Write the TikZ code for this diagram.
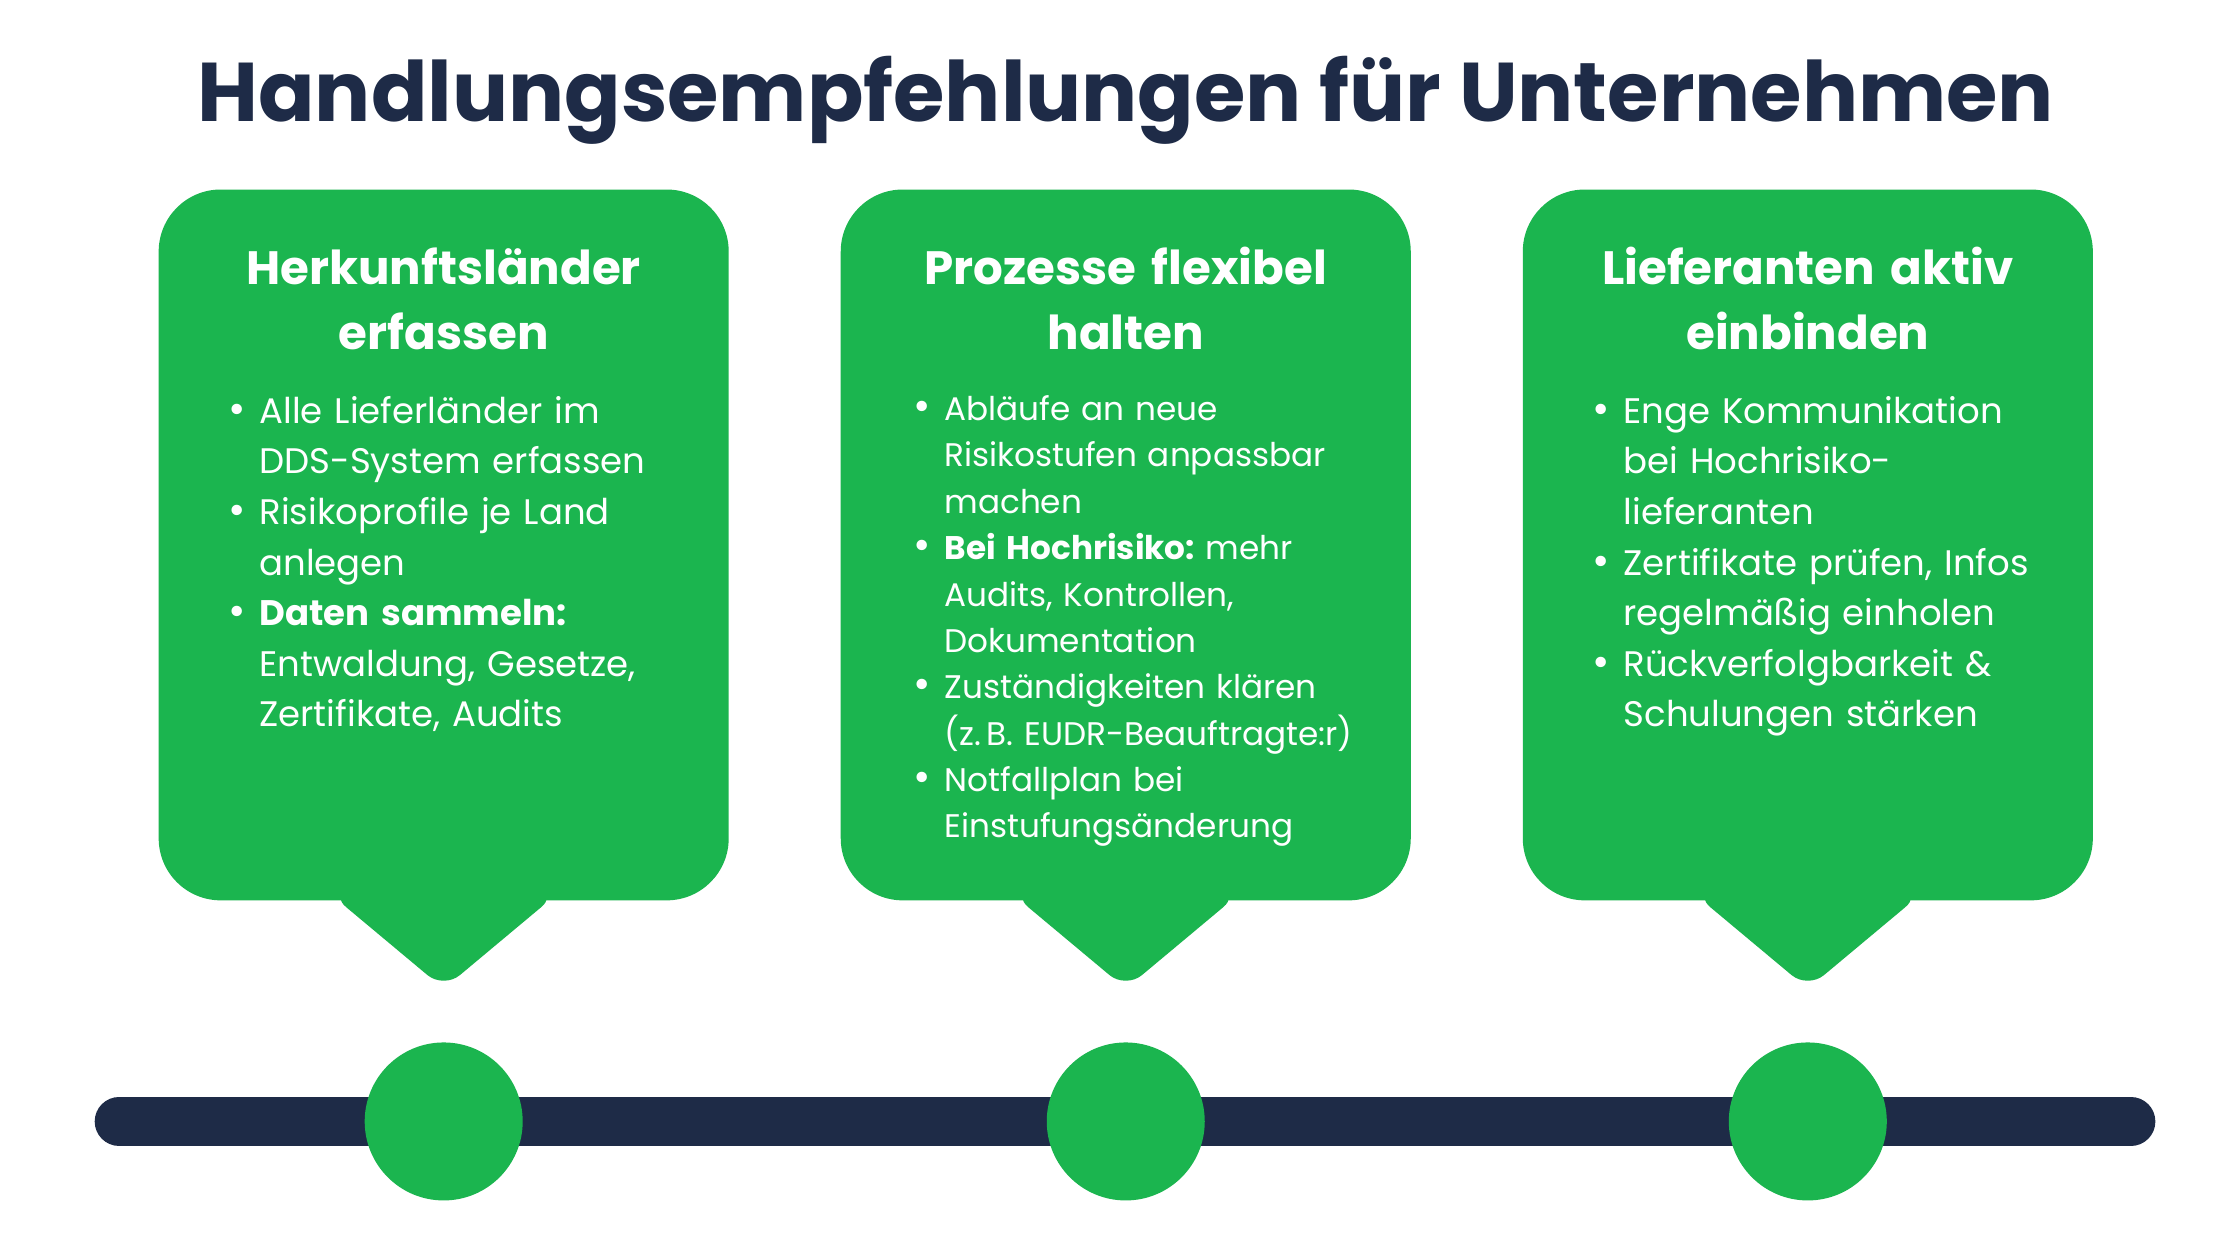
\documentclass[tikz,border=0pt]{standalone}
\usepackage{fontspec}
\setmainfont{Poppins}
\usepackage{enumitem}
\usetikzlibrary{positioning,calc}
\definecolor{leaf}{HTML}{1BB54F}
\definecolor{navy}{HTML}{1E2B47}
\frenchspacing
\setlist[itemize]{leftmargin=9.5pt,labelsep=4pt,label={\large\textbullet},itemsep=0pt,topsep=0pt,parsep=0pt}
\begin{document}
\begin{tikzpicture}[x=0.01436cm,y=-0.01436cm]
  \tikzset{bubble/.style={fill=leaf,rounded corners=0.62cm,minimum width=5.70cm,minimum height=7.108cm,inner sep=0pt},
           head/.style={text=white,font=\fontsize{13.3}{18.6}\selectfont\bfseries,align=center,text width=5.5cm},
           body/.style={text=white,font=\fontsize{10.1}{14.4}\selectfont,text width=4.75cm,align=left,anchor=north west,inner sep=0pt},
           dot/.style={circle,fill=leaf,minimum size=1.58cm,inner sep=0pt}}
  \useasboundingbox[fill=white] (0,0) rectangle (1560,877);

  \node[text=navy,font=\fontsize{23.7}{30}\selectfont\bfseries] (title) at (784,70) {Handlungsempfehlungen für Unternehmen};

  % timeline
  \coordinate (tl) at (83,781);
  \coordinate (tr) at (1484,781);
  \draw[navy,line width=0.49cm,line cap=round] (tl) -- (tr);

  \foreach \n/\x in {1/309,2/784,3/1259}{
    \node[bubble] (b\n) at (\x,379.5) {};
    \fill[leaf,rounded corners=6pt] ($(b\n.south)+(-79,-5)$) -- ++(79,66) -- ++(79,-66) -- cycle;
    \node[dot] (d\n) at (\x,781) {};
  }

  \node[head] (h1) at (309,208) {Herkunftsländer\\erfassen};
  \node[head] (h2) at (784,208) {Prozesse flexibel\\halten};
  \node[head] (h3) at (1259,208) {Lieferanten aktiv\\einbinden};

  \node[body] (t1) at (157,259) {\hyphenpenalty=10000\begin{itemize}
    \item Alle Lieferländer im DDS-System erfassen
    \item Risikoprofile je Land anlegen
    \item \textbf{Daten sammeln:} Entwaldung, Gesetze, Zertifikate, Audits
  \end{itemize}};
  \node[body,font=\fontsize{9.3}{13.2}\selectfont] (t2) at (634,260) {\hyphenpenalty=10000\begin{itemize}
    \item Abläufe an neue Risikostufen anpassbar machen
    \item \textbf{Bei Hochrisiko:} mehr Audits, Kontrollen, Dokumentation
    \item Zuständigkeiten klären (z.\,B. EUDR-Beauftragte:r)
    \item Notfallplan bei Einstufungsänderung
  \end{itemize}};
  \node[body] (t3) at (1107,259) {\hyphenpenalty=10000\begin{itemize}
    \item Enge Kommunikation bei Hochrisiko-\\lieferanten
    \item Zertifikate prüfen, Infos regelmäßig einholen
    \item Rückverfolgbarkeit \& Schulungen stärken
  \end{itemize}};
\end{tikzpicture}
\end{document}
